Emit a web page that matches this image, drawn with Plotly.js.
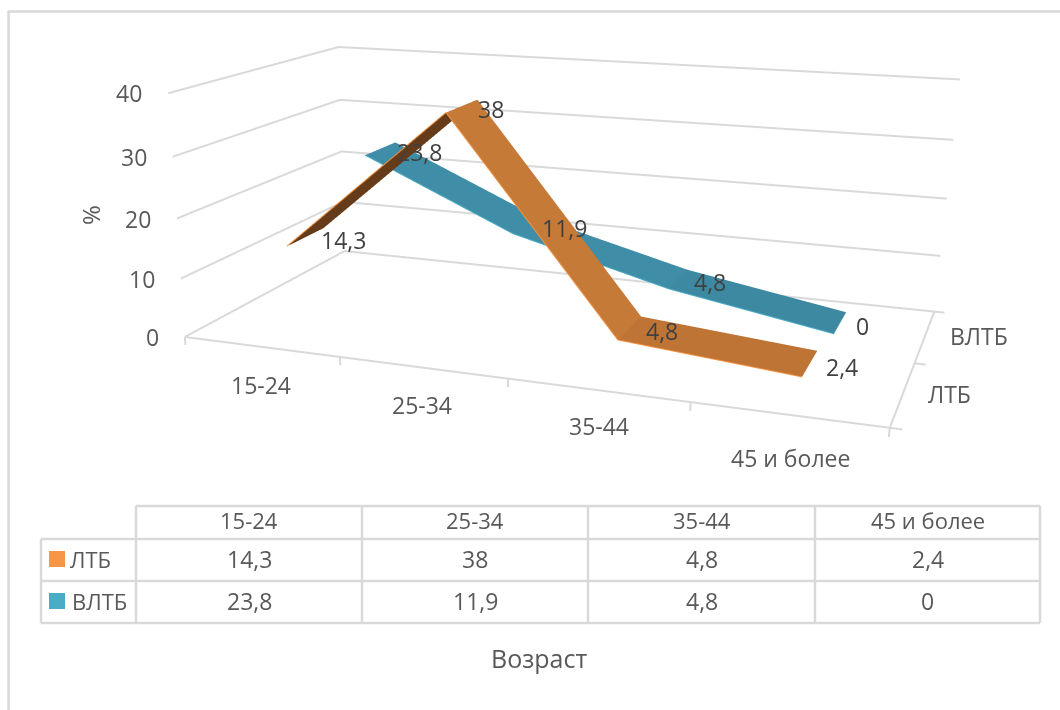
<!DOCTYPE html>
<html>
<head>
<meta charset="utf-8">
<script src="https://cdn.plot.ly/plotly-3.0.1.min.js"></script>
<style>
html,body{margin:0;padding:0;width:1060px;height:710px;overflow:hidden;background:#fff}
#chart{position:absolute;left:-120px;top:-223px;width:1180px;height:1274px}
</style>
</head>
<body>
<div id="chart"></div>
<script>
// Age groups and the two TB series (%)
var categories = ['15-24', '25-34', '35-44', '45 и более'];
var ltbValues = [14.3, 38, 4.8, 2.4];
var vltbValues = [23.8, 11.9, 4.8, 0];
var seriesNames = ['ЛТБ', 'ВЛТБ'];
var valueTicks = [0, 10, 20, 30, 40];
var valueAxisTitle = '%';
var categoryAxisTitle = 'Возраст';

var TEXT = '#595959', DARK_TEXT = '#404040', GRID = '#D9D9D9';
var FONT = '"Open Sans", "Noto Sans", sans-serif';
var W = 1180, H = 1274, OX = 120, OY = 223;
function px(x) { return (x + OX) / W; }
function py(y) { return 1 - (y + OY) / H; }
function fmt(v) { return String(v).replace('.', ','); }

// Ribbon depth centres on the series axis and half of the ribbon depth
var seriesDepth = [0.56, 1.58], halfDepth = 0.22;

function ribbon(values, depth, faceColors, edgeColor) {
  var x = [], y = [], z = [], i = [], j = [], k = [], fc = [];
  values.forEach(function (v, n) {
    x.push(n + 0.5, n + 0.5); y.push(depth - halfDepth, depth + halfDepth); z.push(v, v);
    if (n > 0) {
      var a = 2 * (n - 1);
      i.push(a, a); j.push(a + 1, a + 3); k.push(a + 3, a + 2);
      fc.push(faceColors[n - 1], faceColors[n - 1]);
    }
  });
  return [{
    type: 'mesh3d', x: x, y: y, z: z, i: i, j: j, k: k, facecolor: fc, flatshading: true,
    lighting: {ambient: 1, diffuse: 0, specular: 0, roughness: 1, fresnel: 0},
    hoverinfo: 'skip', showscale: false
  }, {
    type: 'scatter3d', mode: 'lines',
    x: values.map(function (v, n) { return n + 0.5; }),
    y: values.map(function () { return depth - halfDepth; }),
    z: values, line: {color: edgeColor, width: 2}, hoverinfo: 'skip', showlegend: false
  }];
}

function frameTrace(xs, ys, zs) {
  return {type: 'scatter3d', mode: 'lines', x: xs, y: ys, z: zs, connectgaps: false,
    line: {color: GRID, width: 4}, hoverinfo: 'skip', showlegend: false};
}
// Gridlines run along the left and back walls at each value tick
function gridLines() {
  var xs = [], ys = [], zs = [];
  valueTicks.forEach(function (t) {
    xs.push(0, 0, 4, null); ys.push(0, 2, 2, null); zs.push(t, t, t, null);
  });
  return frameTrace(xs, ys, zs);
}
// Front and right floor edges with their tick marks
function floorLines() {
  var xs = [0, 4, 4, null], ys = [0, 0, 2, null], zs = [0, 0, 0, null];
  [0, 1, 2, 3, 4].forEach(function (c) { xs.push(c, c, null); ys.push(0, 0, null); zs.push(0, -1.4, null); });
  [0, 1, 2].forEach(function (s) { xs.push(4, 4.06, null); ys.push(s, s, null); zs.push(0, 0, null); });
  return frameTrace(xs, ys, zs);
}

var traces = []
  .concat([gridLines(), floorLines()])
  .concat(ribbon(vltbValues, seriesDepth[1], ['#3F8DA6', '#3F8DA6', '#3D89A1'], '#4BACC6'))
  .concat(ribbon(ltbValues, seriesDepth[0], ['#663B1A', '#C67A38', '#BE7434'], '#F79646'));

function sceneNote(x, y, z, text, color, anchor, dx, dy) {
  return {x: x, y: y, z: z, text: text, showarrow: false, xanchor: anchor, yanchor: 'middle',
    xshift: dx, yshift: dy, font: {family: FONT, size: 23, color: color}};
}

var sceneNotes = [];
var categoryShift = [[0, -38], [0, -37], [2, -36], [3, -43]];
var seriesShift = [47, 54];
valueTicks.forEach(function (t) { sceneNotes.push(sceneNote(0, 0, t, String(t), TEXT, 'right', -24, 0)); });
categories.forEach(function (c, n) {
  sceneNotes.push(sceneNote(n + 0.5, 0, 0, c, TEXT, 'center', categoryShift[n][0], categoryShift[n][1]));
});
seriesNames.forEach(function (s, n) { sceneNotes.push(sceneNote(4, n + 0.5, 0, s, TEXT, 'center', seriesShift[n], 0)); });
// Value labels sit to the right of their point
ltbValues.forEach(function (v, n) { sceneNotes.push(sceneNote(n + 0.5, seriesDepth[0], v, fmt(v), DARK_TEXT, 'left', 14, -3)); });
vltbValues.forEach(function (v, n) { sceneNotes.push(sceneNote(n + 0.5, seriesDepth[1], v, fmt(v), DARK_TEXT, 'left', 14, -3)); });

// Page frame and data table are drawn in paper space
var shapes = [], notes = [];
function rule(x0, y0, x1, y1) {
  shapes.push({type: 'line', xref: 'paper', yref: 'paper', x0: px(x0), y0: py(y0), x1: px(x1), y1: py(y1),
    line: {color: GRID, width: 2.5}, layer: 'above'});
}
rule(8.5, 11, 8.5, 710); rule(8, 11.5, 1060, 11.5);
var colX = [136, 362, 588, 815, 1040];
var rowY = [506, 539, 581, 623];
rule(136, rowY[0], 1040, rowY[0]);
rule(41, rowY[1], 1040, rowY[1]);
rule(41, rowY[2], 1040, rowY[2]);
rule(41, rowY[3], 1040, rowY[3]);
rule(41, rowY[1], 41, rowY[3]);
colX.forEach(function (c) { rule(c, rowY[0], c, rowY[3]); });

function note(x, y, text, size, anchor, angle) {
  notes.push({xref: 'paper', yref: 'paper', x: px(x), y: py(y), text: text, showarrow: false,
    xanchor: anchor || 'center', yanchor: 'middle', textangle: angle || 0,
    font: {family: FONT, size: size, color: TEXT}});
}
categories.forEach(function (c, n) {
  var mid = (colX[n] + colX[n + 1]) / 2;
  note(mid, 520, c, 22);
  note(mid, 559, fmt(ltbValues[n]), 23);
  note(mid, 601, fmt(vltbValues[n]), 23);
});
note(68, 559, seriesNames[0], 22, 'left');
note(70, 601, seriesNames[1], 22, 'left');
note(539, 658, categoryAxisTitle, 25);
note(91, 215, valueAxisTitle, 24, 'center', -90);
[[551, '#F79646'], [593, '#4BACC6']].forEach(function (k) {
  shapes.push({type: 'rect', xref: 'paper', yref: 'paper', x0: px(49), x1: px(65), y0: py(k[0]), y1: py(k[0] + 16),
    fillcolor: k[1], line: {width: 0}, layer: 'above'});
});

function axis(range) {
  return {range: range, autorange: false, title: {text: ''}, showticklabels: false, ticks: '', showgrid: false,
    zeroline: false, showline: false, showbackground: false, showspikes: false, showaxeslabels: false};
}

var layout = {
  width: W, height: H, margin: {l: 0, r: 0, t: 0, b: 0}, paper_bgcolor: '#fff', showlegend: false,
  font: {family: FONT, color: TEXT},
  shapes: shapes, annotations: notes,
  scene: {
    domain: {x: [0, 1], y: [0, 1]},
    // The ranges leave a little room past the box so ticks and the top gridline are not clipped
    xaxis: axis([0, 4.06]), yaxis: axis([0, 2]), zaxis: axis([-1.4, 40.6]),
    aspectmode: 'manual', aspectratio: {x: 1.015, y: 0.5306, z: 0.36834},
    camera: {
      eye: {x: 0.6585, y: -2.096, z: 0.5095},
      center: {x: -0.1065, y: -0.153, z: -0.2755},
      up: {x: 0, y: 0, z: 1}
    },
    annotations: sceneNotes
  }
};
Plotly.newPlot('chart', traces, layout, {displayModeBar: false});
</script>
</body>
</html>
